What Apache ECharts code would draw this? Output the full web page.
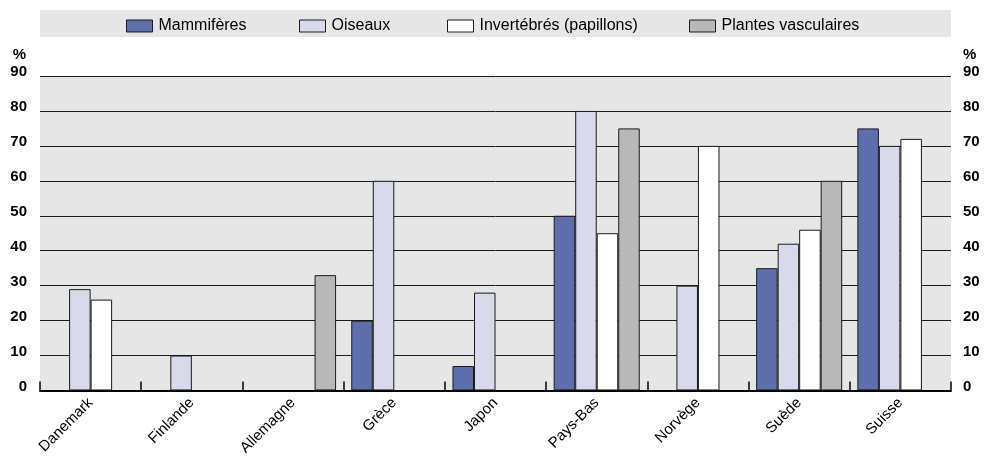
<!DOCTYPE html>
<html>
<head>
<meta charset="utf-8">
<script src="https://cdn.jsdelivr.net/npm/echarts@6/dist/echarts.min.js"></script>
<style>
  html, body { margin: 0; padding: 0; background: #ffffff; }
  #chart { width: 990px; height: 458px; }
</style>
</head>
<body>
<div id="chart"></div>
<script>
// Pays et pourcentages d'espèces menacées par groupe
const categories = ['Danemark', 'Finlande', 'Allemagne', 'Grèce', 'Japon', 'Pays-Bas', 'Norvège', 'Suède', 'Suisse'];
const groupNames = ['Mammifères', 'Oiseaux', 'Invertébrés (papillons)', 'Plantes vasculaires'];
const mammiferes = [null, null, null, 20, 7, 50, null, 35, 75];
const oiseaux = [29, 10, null, 60, 28, 80, 30, 42, 70];
const invertebres = [26, null, null, null, null, 45, 70, 46, 72];
const plantes = [null, null, 33, null, null, 75, null, 60, null];
const yTicks = { min: 0, max: 90, interval: 10 };

const sans = "'Liberation Sans', Arial, Helvetica, sans-serif";
const colors = ['#5f6fad', '#d9d9ec', '#ffffff', '#b8b8b8'];
const legendLeft = [126, 299, 447, 689];

const chart = echarts.init(document.getElementById('chart'), null, { renderer: 'canvas' });

function barSeries(name, data) {
  return {
    name: name,
    type: 'bar',
    data: data,
    barGap: '0%',
    barCategoryGap: '15%',
    itemStyle: { borderColor: '#1a1a1a', borderWidth: 1 },
    emphasis: { disabled: true }
  };
}

function valueAxis(position) {
  const left = position === 'left';
  return {
    type: 'value',
    position: position,
    min: yTicks.min,
    max: yTicks.max,
    interval: yTicks.interval,
    name: '%',
    nameLocation: 'end',
    nameGap: 14,
    nameTextStyle: {
      fontFamily: sans, fontWeight: 'bold', fontSize: 15, color: '#000',
      align: left ? 'right' : 'left',
      padding: left ? [0, 14, 0, 0] : [0, 0, 0, 12]
    },
    axisLine: { show: false },
    axisTick: { show: false },
    axisLabel: {
      margin: left ? 13 : 12,
      verticalAlign: 'bottom',
      lineHeight: 8,
      fontFamily: sans, fontWeight: 'bold', fontSize: 15, color: '#000'
    },
    splitLine: left ? { show: true, lineStyle: { color: '#1a1a1a', width: 1 } } : { show: false }
  };
}

// one legend block per group so each entry sits in its own slot of the band
const legends = groupNames.map(function (name, i) {
  return {
    data: [name],
    top: 18,
    left: legendLeft[i],
    padding: 0,
    itemWidth: 26,
    itemHeight: 12,
    icon: 'rect',
    selectedMode: false,
    textStyle: { fontFamily: sans, fontSize: 16, color: '#000', padding: [0, 0, 0, 1] },
    itemStyle: { borderColor: '#1a1a1a', borderWidth: 1 }
  };
});

chart.setOption({
  animation: false,
  backgroundColor: '#ffffff',
  color: colors,
  graphic: [{
    type: 'rect',
    left: 40, top: 10,
    shape: { width: 911, height: 27 },
    style: { fill: '#e6e6e6' },
    z: -10
  }],
  legend: legends,
  grid: {
    left: 40, right: 39, top: 76, bottom: 66,
    show: true, backgroundColor: '#e6e6e6', borderWidth: 0
  },
  xAxis: {
    type: 'category',
    data: categories,
    axisLine: { show: true, lineStyle: { color: '#000', width: 2 } },
    axisTick: { show: true, inside: true, length: 9, lineStyle: { color: '#000', width: 1.5 } },
    axisLabel: {
      rotate: 45, margin: 10, interval: 0,
      fontFamily: sans, fontSize: 15, color: '#000'
    },
    splitLine: { show: false }
  },
  yAxis: [valueAxis('left'), valueAxis('right')],
  series: [
    barSeries(groupNames[0], mammiferes),
    barSeries(groupNames[1], oiseaux),
    barSeries(groupNames[2], invertebres),
    barSeries(groupNames[3], plantes)
  ]
});
</script>
</body>
</html>
